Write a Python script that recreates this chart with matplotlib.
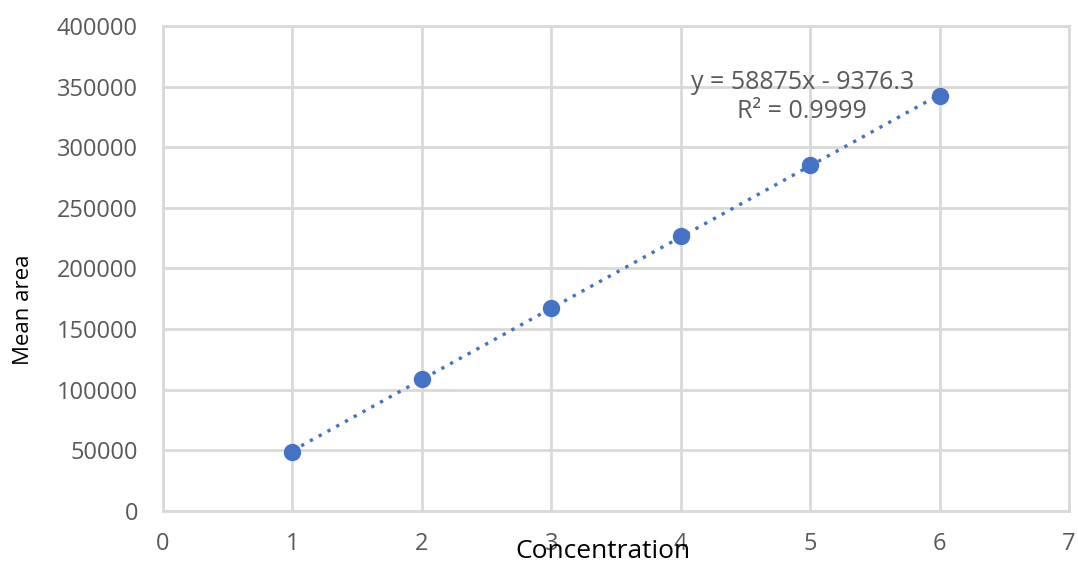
import matplotlib
matplotlib.use('Agg')
import matplotlib.pyplot as plt
import numpy as np

# datos
concentration = [1, 2, 3, 4, 5, 6]
mean_area = [49000, 108500, 167500, 227000, 285500, 342000]
x_ticks = [0, 1, 2, 3, 4, 5, 6, 7]
y_ticks = [0, 50000, 100000, 150000, 200000, 250000, 300000, 350000, 400000]
eq_text = 'y = 58875x - 9376.3'
r2_text = 'R² = 0.9999'

plt.rcParams['font.family'] = ['Open Sans', 'DejaVu Sans']

fig = plt.figure(figsize=(10.78, 5.63), dpi=100)
ax = fig.add_axes([0.1512, 0.0924, 0.8405, 0.8614])

blue = '#4472C4'
grid_c = '#d9d9d9'

# linea de tendencia (ajuste lineal)
m, b = np.polyfit(concentration, mean_area, 1)
xs = np.array([concentration[0], concentration[-1]])
ax.plot(xs, m * xs + b, color=blue, lw=2.4, linestyle=(0, (1, 2.0)), zorder=3)
ax.plot(concentration, mean_area, 'o', color=blue, ms=11.5, zorder=4)

ax.set_xlim(0, 7)
ax.set_ylim(0, 400000)
ax.set_xticks(x_ticks)
ax.set_yticks(y_ticks)
ax.grid(True, color=grid_c, lw=2)
ax.set_axisbelow(True)
for s in ax.spines.values():
    s.set_color(grid_c)
    s.set_linewidth(2)
ax.tick_params(length=0, labelsize=17, labelcolor='#595959')
ax.tick_params(axis='x', pad=15)
ax.tick_params(axis='y', pad=18)

fig.text(0.5594, 0.008, 'Concentration', fontsize=19, color='black', ha='center', va='baseline')
fig.text(0.0215, 0.4494, 'Mean area', fontsize=16, color='black', rotation=90, ha='center', va='center')

ax.text(4.94, 353800, eq_text, fontsize=18, color='#595959', ha='center', va='center')
ax.text(4.94, 329500, r2_text, fontsize=18, color='#595959', ha='center', va='center')

fig.savefig('out.png', dpi=100)
